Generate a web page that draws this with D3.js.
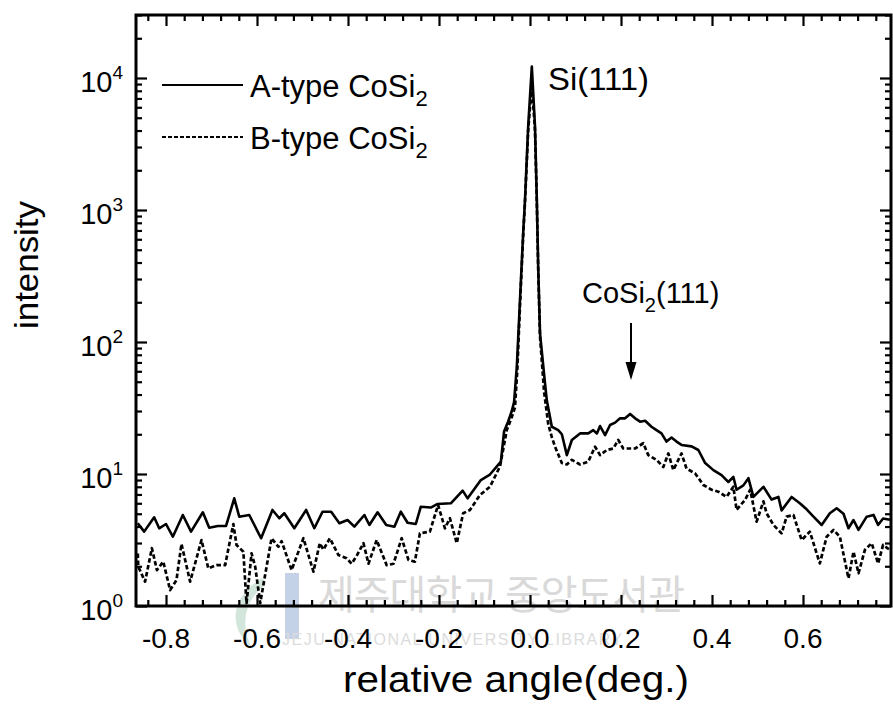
<!DOCTYPE html>
<html><head><meta charset="utf-8">
<script src="https://cdn.jsdelivr.net/npm/d3@7"></script>
<style>
body{margin:0;background:#fff}
svg{display:block}
text{font-family:"Liberation Sans",Arial,sans-serif;fill:#000}
</style>
</head><body>
<svg id="c" width="893" height="718"></svg>
<script>
// ---- data ----
const angleA = [-0.862,-0.848,-0.826,-0.815,-0.800,-0.785,-0.763,-0.745,-0.719,-0.705,-0.686,-0.668,-0.650,-0.639,-0.617,-0.591,-0.566,-0.551,-0.540,-0.518,-0.492,-0.474,-0.456,-0.437,-0.419,-0.401,-0.386,-0.364,-0.353,-0.335,-0.316,-0.298,-0.284,-0.269,-0.251,-0.240,-0.218,-0.203,-0.174,-0.148,-0.137,-0.108,-0.089,-0.064,-0.057,-0.048,-0.040,-0.035,-0.029,-0.022,-0.015,-0.011,-0.004,0.004,0.011,0.015,0.018,0.022,0.033,0.037,0.048,0.062,0.070,0.081,0.092,0.110,0.128,0.139,0.147,0.154,0.165,0.176,0.187,0.198,0.209,0.220,0.231,0.242,0.253,0.267,0.278,0.289,0.300,0.311,0.322,0.333,0.355,0.370,0.385,0.403,0.421,0.436,0.447,0.454,0.469,0.480,0.491,0.513,0.531,0.546,0.553,0.575,0.593,0.608,0.623,0.641,0.659,0.674,0.689,0.700,0.711,0.722,0.740,0.755,0.765,0.776,0.791];
const intensityA = [4.24,3.66,4.70,3.88,4.18,3.35,4.89,3.66,5.13,3.92,4.04,4.04,6.54,4.75,4.89,3.26,5.34,4.62,5.04,3.88,5.34,3.88,5.18,5.18,4.24,4.48,3.99,4.89,4.11,5.13,4.11,3.99,5.18,4.27,4.18,5.65,5.57,5.93,6.0,7.48,6.54,9.0,9.83,12.4,21,25,30,35,65,208,670,1190,4300,12200,4300,1190,372,116,48.6,36,22.8,21.5,20,13.9,18.1,20.3,20.3,21.5,20.3,23.1,19.7,23.5,24.5,26.4,26.4,28.5,26.4,24.9,25.3,22.8,21.5,20.3,17.6,18.9,17.6,16.6,16.2,15.2,12.1,10.7,9.8,8.7,9.5,7.6,8.2,9.3,6.7,8.0,6.4,6.7,5.3,6.7,6.0,5.4,4.75,4.11,5.04,5.5,5.0,3.88,4.48,3.77,4.75,4.9,4.11,4.6,4.5];

const angleB = [-0.862,-0.861,-0.846,-0.831,-0.820,-0.806,-0.791,-0.777,-0.766,-0.747,-0.722,-0.707,-0.689,-0.670,-0.652,-0.645,-0.630,-0.623,-0.612,-0.604,-0.593,-0.568,-0.553,-0.546,-0.524,-0.498,-0.476,-0.462,-0.454,-0.440,-0.421,-0.403,-0.392,-0.381,-0.366,-0.355,-0.337,-0.315,-0.300,-0.282,-0.267,-0.253,-0.242,-0.220,-0.202,-0.187,-0.176,-0.161,-0.147,-0.132,-0.110,-0.088,-0.066,-0.051,-0.040,-0.033,-0.028,-0.022,-0.015,-0.011,-0.004,0.004,0.011,0.015,0.018,0.022,0.031,0.040,0.048,0.055,0.070,0.081,0.092,0.110,0.128,0.143,0.154,0.169,0.183,0.194,0.205,0.216,0.231,0.249,0.260,0.278,0.293,0.304,0.315,0.333,0.344,0.363,0.381,0.399,0.414,0.432,0.447,0.454,0.473,0.484,0.498,0.513,0.520,0.535,0.553,0.564,0.579,0.597,0.615,0.637,0.652,0.667,0.681,0.700,0.711,0.722,0.736,0.751,0.765,0.776,0.791];
const intensityB = [2.5,1.99,1.53,2.74,1.87,2.17,1.32,1.57,2.95,1.53,3.16,1.93,2.04,2.04,4.18,2.9,2.58,1.05,2.51,1.99,1.05,3.26,2.81,3.1,1.87,3.26,1.82,2.99,2.67,3.26,2.43,2.3,2.09,2.4,2.99,2.09,3.16,2.04,2.09,3.26,2.23,2.17,3.55,3.66,5.82,3.88,4.62,2.99,5.04,5.34,6.93,8.0,11.4,21.5,27,32,60,190,640,1150,4000,9000,4000,1150,360,110,42,24,19,16.1,12.1,11.8,12.8,11.8,12.4,16.1,13.9,15.2,15.6,18.1,15.6,15.6,15.6,17.1,13.9,12.8,11.3,14.3,10.7,14.3,11.0,10.1,8.26,7.6,7.34,6.7,8.0,5.34,6.4,7.6,4.35,6.2,5.04,4.11,3.55,4.75,4.89,3.16,3.66,2.1,3.35,3.77,3.35,1.62,2.58,1.77,2.66,2.99,2.1,2.9,2.66];

const xTickValues = [-0.8,-0.6,-0.4,-0.2,0.0,0.2,0.4,0.6];
const xTickLabels = ["-0.8","-0.6","-0.4","-0.2","0.0","0.2","0.4","0.6"];
const yTickExponents = [0,1,2,3,4];
const seriesNames = ["A-type CoSi","B-type CoSi"];

// ---- layout ----
const L = 136, R = 891, T = 15, B = 606;
const svg = d3.select("#c");

// watermark (faint, behind)
const wm = svg.append("g");
wm.append("rect").attr("x",285).attr("y",573).attr("width",14).attr("height",66).attr("fill","#c3d2e6");
wm.append("path").attr("d","M262,578 C232,596 226,626 252,648 C240,626 244,600 266,584 Z").attr("fill","#d3e6dc");
wm.append("text").attr("x",318).attr("y",609).style("font-family","'Noto Sans CJK KR'")
  .style("font-size","40px").style("fill","#d9d9d9").attr("letter-spacing","-1").text("제주대학교 중앙도서관");
wm.append("text").attr("x",282).attr("y",645).style("font-size","16px").style("fill","#dcdcdc")
  .attr("letter-spacing","1.5").text("JEJU NATIONAL UNIVERSITY LIBRARY");

const x = d3.scaleLinear().domain([(L-530)/455,(R-530)/455]).range([L,R]);
const y = d3.scaleLog().domain([1, Math.pow(10,(B-T)/132)]).range([B,T]);

// minor/major tick values
const xMinor = d3.range(-0.84,0.78,0.04).map(v=>+v.toFixed(2)).filter(v=>Math.abs(Math.round(v*5)-v*5)>1e-6);
const yMinor = [];
for (let e=0;e<=4;e++) for (let m=2;m<=9;m++){const v=m*Math.pow(10,e); if(v<y.domain()[1]) yMinor.push(v);}

function styleAxis(g){ g.select(".domain").remove(); g.selectAll("line").attr("stroke","#000").attr("stroke-width",2.2); g.selectAll("text").remove(); }

svg.append("g").attr("transform",`translate(0,${B})`).call(d3.axisBottom(x).tickValues(xTickValues).tickSizeInner(-11).tickSizeOuter(0)).call(styleAxis);
svg.append("g").attr("transform",`translate(0,${B})`).call(d3.axisBottom(x).tickValues(xMinor).tickSizeInner(-6).tickSizeOuter(0)).call(styleAxis);
svg.append("g").attr("transform",`translate(0,${T})`).call(d3.axisTop(x).tickValues(xTickValues).tickSizeInner(-11).tickSizeOuter(0)).call(styleAxis);
svg.append("g").attr("transform",`translate(0,${T})`).call(d3.axisTop(x).tickValues(xMinor).tickSizeInner(-6).tickSizeOuter(0)).call(styleAxis);
const yMajor = yTickExponents.map(e=>Math.pow(10,e));
svg.append("g").attr("transform",`translate(${L},0)`).call(d3.axisLeft(y).tickValues(yMajor).tickSizeInner(-11).tickSizeOuter(0)).call(styleAxis);
svg.append("g").attr("transform",`translate(${L},0)`).call(d3.axisLeft(y).tickValues(yMinor).tickSizeInner(-6).tickSizeOuter(0)).call(styleAxis);
svg.append("g").attr("transform",`translate(${R},0)`).call(d3.axisRight(y).tickValues(yMajor).tickSizeInner(-11).tickSizeOuter(0)).call(styleAxis);
svg.append("g").attr("transform",`translate(${R},0)`).call(d3.axisRight(y).tickValues(yMinor).tickSizeInner(-6).tickSizeOuter(0)).call(styleAxis);

// frame
svg.append("rect").attr("x",L).attr("y",T).attr("width",R-L).attr("height",B-T)
  .attr("fill","none").attr("stroke","#000").attr("stroke-width",3);

// tick labels
svg.append("g").selectAll("text").data(xTickValues).join("text")
  .attr("x",d=>x(d)).attr("y",648).attr("text-anchor","middle").style("font-size","28px")
  .text((d,i)=>xTickLabels[i]);
const yl = svg.append("g").selectAll("text").data(yTickExponents).join("text")
  .attr("x",123).attr("y",d=>y(Math.pow(10,d))+14).attr("text-anchor","end").style("font-size","29px");
yl.append("tspan").text("10");
yl.append("tspan").attr("dy",-13).style("font-size","19px").text(d=>d);

// axis titles
svg.append("text").attr("x",516).attr("y",692).attr("text-anchor","middle").style("font-size","36px")
  .attr("textLength",346).attr("lengthAdjust","spacingAndGlyphs").text("relative angle(deg.)");
svg.append("text").attr("transform","translate(38,265) rotate(-90)").attr("text-anchor","middle").style("font-size","33px")
  .attr("textLength",128).attr("lengthAdjust","spacingAndGlyphs").text("intensity");

// data lines
const line = d3.line().x(d=>x(d[0])).y(d=>y(d[1]));
const dataA = angleA.map((a,i)=>[a,intensityA[i]]);
const dataB = angleB.map((a,i)=>[a,intensityB[i]]);
svg.append("clipPath").attr("id","clp").append("rect").attr("x",L).attr("y",T).attr("width",R-L).attr("height",B-T);
svg.append("path").datum(dataB).attr("clip-path","url(#clp)").attr("d",line).attr("fill","none")
  .attr("stroke","#000").attr("stroke-width",2.7).attr("stroke-dasharray","4.5,2.5").attr("stroke-linejoin","round");
svg.append("path").datum(dataA).attr("clip-path","url(#clp)").attr("d",line).attr("fill","none")
  .attr("stroke","#000").attr("stroke-width",2.6).attr("stroke-linejoin","round");

// legend
const lg = svg.append("g");
[[85,null],[137,"4,2"]].forEach((s,i)=>{
  lg.append("line").attr("x1",162).attr("x2",243).attr("y1",s[0]).attr("y2",s[0])
    .attr("stroke","#000").attr("stroke-width",2.2).attr("stroke-dasharray",s[1]);
  const t = lg.append("text").attr("x",250).attr("y",s[0]+12).style("font-size","31px");
  t.append("tspan").text(seriesNames[i]);
  t.append("tspan").attr("dy",9).style("font-size","22px").text("2");
});

// annotations
svg.append("text").attr("x",548).attr("y",90).style("font-size","31px")
  .attr("textLength",101).attr("lengthAdjust","spacingAndGlyphs").text("Si(111)");
const an = svg.append("text").attr("x",582).attr("y",303).style("font-size","29px");
an.append("tspan").text("CoSi");
an.append("tspan").attr("dy",9).style("font-size","20px").text("2");
an.append("tspan").attr("dy",-9).text("(111)");
svg.append("line").attr("x1",631).attr("x2",631).attr("y1",323).attr("y2",366).attr("stroke","#000").attr("stroke-width",2);
svg.append("path").attr("d","M625.5,362 L636.5,362 L631,380 Z").attr("fill","#000");
</script>
</body></html>
